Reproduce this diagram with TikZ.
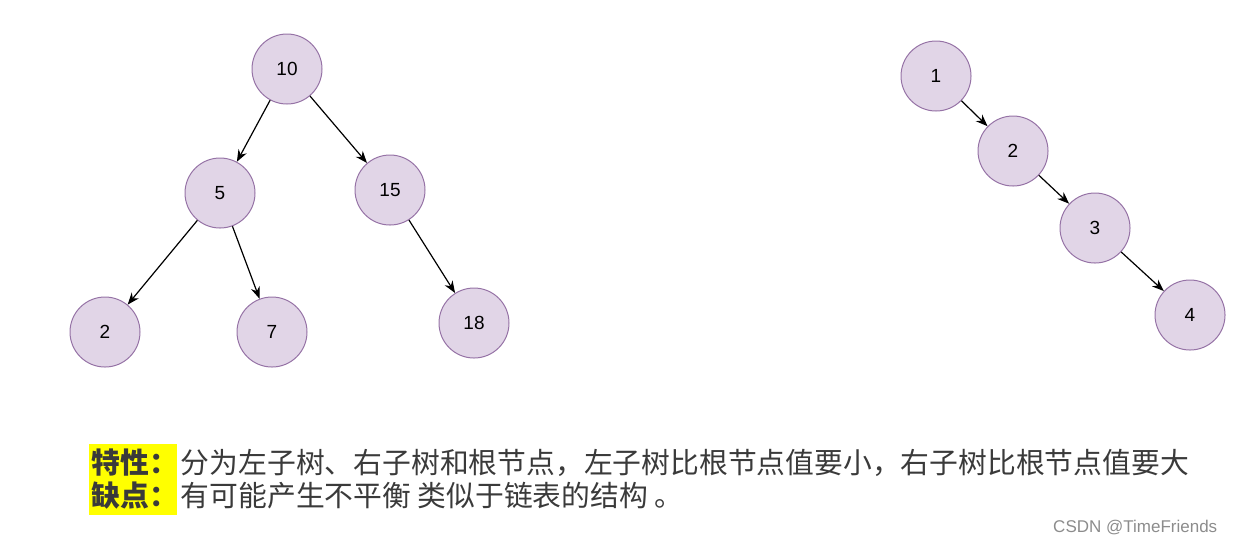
\documentclass[tikz,border=0pt]{standalone}
\usepackage{fontspec}
\setmainfont{Liberation Sans}
\newfontfamily\cjk{Noto Sans CJK SC}
\usetikzlibrary{arrows.meta,positioning}
\definecolor{nodefill}{HTML}{E1D5E7}
\definecolor{nodeline}{HTML}{9673A6}
\definecolor{txtgray}{HTML}{3A3A3A}
\definecolor{marker}{HTML}{FFFF00}
\begin{document}
\begin{tikzpicture}[x=0.5pt, y=-0.5pt, thick, >={Stealth[length=6pt,width=4.6pt]},
    key/.style={circle, draw=nodeline, line width=0.5pt, fill=nodefill, minimum size=35pt, inner sep=0pt, font=\fontsize{9.5}{11}\selectfont},
    link/.style={->, line width=0.6pt, black},
    note/.style={font=\cjk\fontsize{14.4}{16.5}\selectfont, text=txtgray, inner sep=0pt, anchor=west}]
  \useasboundingbox (0,0) rectangle (1234,543);
  % binary search tree
  \node[key] (n10) at (287,69) {10};
  \node[key] (n5) at (220,193) {5};
  \node[key] (n15) at (390,190) {15};
  \node[key] (n2) at (105,332) {2};
  \node[key] (n7) at (272,332) {7};
  \node[key] (n18) at (474,323) {18};
  \draw[link] (n10) -- (n5);
  \draw[link] (n10) -- (n15);
  \draw[link] (n5) -- (n2);
  \draw[link] (n5) -- (n7);
  \draw[link] (n15) -- (n18);
  % degenerate tree
  \node[key] (c1) at (936,76) {1};
  \node[key] (c2) at (1013,151) {2};
  \node[key] (c3) at (1095,228) {3};
  \node[key] (c4) at (1190,315) {4};
  \draw[link] (c1) -- (c2);
  \draw[link] (c2) -- (c3);
  \draw[link] (c3) -- (c4);
  % text
  \node[fill=marker, minimum width=44pt, minimum height=35.5pt, inner sep=0pt] (mark) at (133,479.5) {};
  \node[note, font=\cjk\bfseries\fontsize{14.4}{16.5}\selectfont] (prop) at (91,463) {特性：};
  \node[note, font=\cjk\bfseries\fontsize{14.4}{16.5}\selectfont] (flaw) at (91,496) {缺点：};
  \node[note] (propt) at (180,463) {分为左子树、右子树和根节点，左子树比根节点值要小，右子树比根节点值要大};
  \node[note] (flawt) at (180,496) {有可能产生不平衡 类似于链表的结构 。};
  \node[font=\fontsize{8.5}{10}\selectfont, text=black!45, anchor=east, inner sep=0pt] (wm) at (1218,527) {CSDN @TimeFriends};
\end{tikzpicture}
\end{document}
